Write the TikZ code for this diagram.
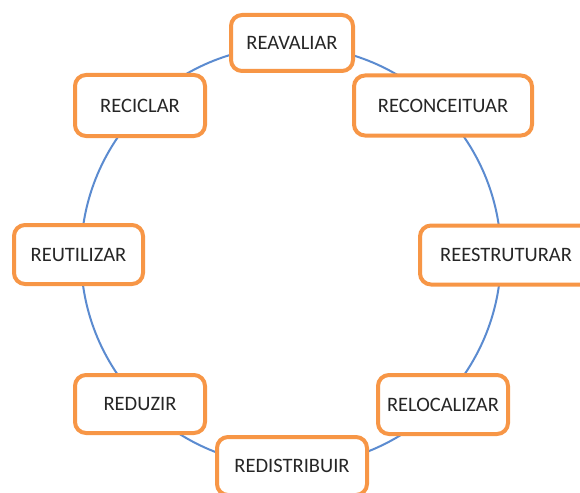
\documentclass[tikz,border=0pt]{standalone}
\usepackage{fontspec}
\setmainfont{Carlito}
\definecolor{boxorange}{HTML}{F79646}
\definecolor{ringblue}{HTML}{5B8BD0}
\definecolor{txt}{HTML}{262626}
\begin{document}
\begin{tikzpicture}[x=1pt,y=-1pt,
  box/.style={draw=boxorange, line width=4pt, rounded corners=11pt, fill=white,
    inner sep=0pt, text=txt, font=\fontsize{20.5}{24}\selectfont},
  ring/.style={draw=ringblue, line width=2pt}]
\useasboundingbox (0,0) rectangle (580,492);
\draw[ring] (291,256) circle[radius=210];
\node[box, minimum width=122pt, minimum height=56pt] (reavaliar) at (292,43) {REAVALIAR};
\node[box, minimum width=178pt, minimum height=60pt] (reconceituar) at (443,105.5) {RECONCEITUAR};
\node[box, minimum width=172pt, minimum height=59pt] (reestruturar) at (506,255) {REESTRUTURAR};
\node[box, minimum width=130pt, minimum height=59pt] (relocalizar) at (443,404.5) {RELOCALIZAR};
\node[box, minimum width=150pt, minimum height=58pt] (redistribuir) at (292,466) {REDISTRIBUIR};
\node[box, minimum width=130pt, minimum height=58pt] (reduzir) at (140,404) {REDUZIR};
\node[box, minimum width=129pt, minimum height=59pt] (reutilizar) at (78.5,254.5) {REUTILIZAR};
\node[box, minimum width=130pt, minimum height=61pt] (reciclar) at (140,105.5) {RECICLAR};
\end{tikzpicture}
\end{document}
